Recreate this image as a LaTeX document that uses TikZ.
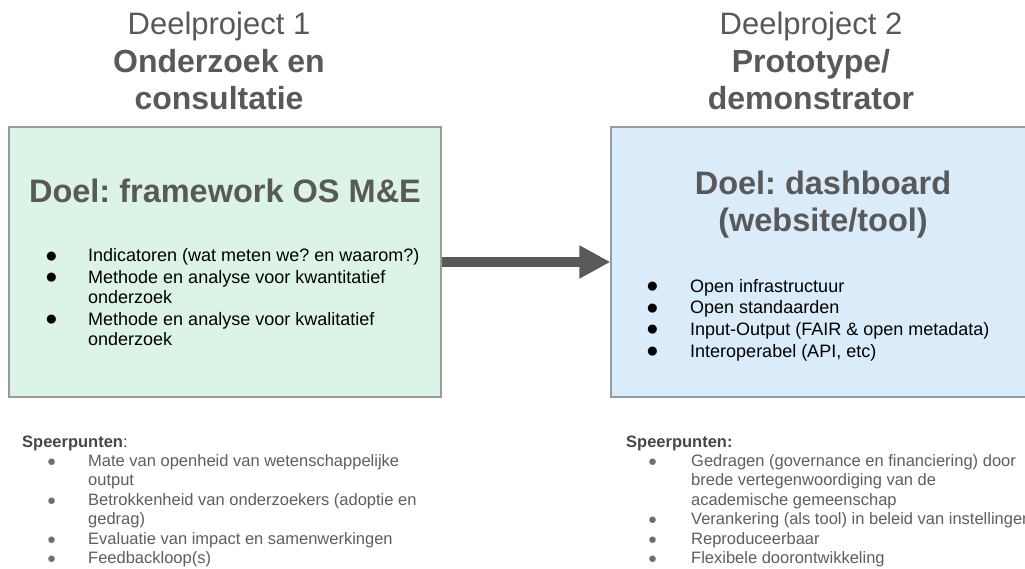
\documentclass[tikz,border=0pt]{standalone}
\usepackage{fontspec}
\setmainfont{Liberation Sans}
\usetikzlibrary{arrows.meta}
\frenchspacing
\definecolor{hdgray}{HTML}{595959}
\definecolor{txtgray}{HTML}{5E5E5E}
\definecolor{spgray}{HTML}{474747}
\definecolor{bulgray}{HTML}{6E6E6E}
\definecolor{greenfill}{HTML}{DCF4E5}
\definecolor{bluefill}{HTML}{DAEBF9}
\definecolor{boxline}{HTML}{9A9A9A}
\newcommand\boxbullet[1]{\makebox[#1][l]{\raisebox{-0.5pt}{\fontsize{21}{21}\selectfont ●}}}
\newcommand\lowbullet[1]{\makebox[#1][l]{\raisebox{0pt}{\color{bulgray}\fontsize{15}{15}\selectfont ●}}}
\tikzset{
  panel/.style={draw=boxline, line width=1.2pt, inner sep=0pt, minimum height=270pt},
  header/.style={anchor=base, inner sep=0pt, text=hdgray, font=\fontsize{31}{31}\selectfont},
  headerbold/.style={anchor=base, inner sep=0pt, text=hdgray, font=\fontsize{32}{32}\selectfont\bfseries},
  goal/.style={anchor=base, inner sep=0pt, text=hdgray, font=\fontsize{32.5}{32.5}\selectfont\bfseries},
  boxlist/.style={anchor=base west, inner sep=0pt, text=black, font=\fontsize{18}{#1}\selectfont},
  lowlist/.style={anchor=base west, inner sep=0pt, text=txtgray, font=\fontsize{16.5}{19.4}\selectfont},
  lowhead/.style={anchor=base west, inner sep=0pt, text=spgray, font=\fontsize{16.5}{19.4}\selectfont},
  bigarrow/.style={draw=hdgray, line width=10pt, -{Triangle[length=31pt,width=31pt]}}
}
\begin{document}
\begin{tikzpicture}[x=1pt,y=-1pt]
\clip (0,0) rectangle (1025,569);
\fill[white] (0,0) rectangle (1025,569);
% panels
\node[panel, fill=greenfill, minimum width=432pt] (left) at (225,262) {};
\node[panel, fill=bluefill, minimum width=424pt] (right) at (823,262) {};
% arrow
\draw[bigarrow] (left.east) -- (right.west);
% headers
\node[header] (h1a) at (219,35) {Deelproject 1};
\node[headerbold] (h1b) at (219,72.5) {Onderzoek en};
\node[headerbold] (h1c) at (219,110) {consultatie};
\node[header] (h2a) at (811,35) {Deelproject 2};
\node[headerbold] (h2b) at (811,72.5) {Prototype/};
\node[headerbold] (h2c) at (811,110) {demonstrator};
% goals
\node[goal] (g1) at (225,203) {Doel: framework OS M\&E};
\node[goal] (g2a) at (823,195) {Doel: dashboard};
\node[goal] (g2b) at (823,232) {(website/tool)};
% box lists
\node[boxlist=21] (l1) at (45,262) {\begin{tabular}[t]{@{}l@{}l@{}}
\boxbullet{43pt} & Indicatoren (wat meten we? en waarom?)\\
\boxbullet{43pt} & Methode en analyse voor kwantitatief\\
 & onderzoek\\
\boxbullet{43pt} & Methode en analyse voor kwalitatief\\
 & onderzoek
\end{tabular}};
\node[boxlist=21.7] (l2) at (646,292) {\begin{tabular}[t]{@{}l@{}l@{}}
\boxbullet{44pt} & Open infrastructuur\\
\boxbullet{44pt} & Open standaarden\\
\boxbullet{44pt} & Input-Output (FAIR \& open metadata)\\
\boxbullet{44pt} & Interoperabel (API, etc)
\end{tabular}};
% speerpunten left
\node[lowhead] (s1) at (22,447) {\textbf{Speerpunten}:};
\node[lowlist] (sl1) at (47,466.5) {\begin{tabular}[t]{@{}l@{}l@{}}
\lowbullet{41pt} & Mate van openheid van wetenschappelijke\\
 & output\\
\lowbullet{41pt} & Betrokkenheid van onderzoekers (adoptie en\\
 & gedrag)\\
\lowbullet{41pt} & Evaluatie van impact en samenwerkingen\\
\lowbullet{41pt} & Feedbackloop(s)
\end{tabular}};
% speerpunten right
\node[lowhead] (s2) at (626,447) {\textbf{Speerpunten:}};
\node[lowlist] (sl2) at (648,466.5) {\begin{tabular}[t]{@{}l@{}l@{}}
\lowbullet{43pt} & Gedragen (governance en financiering) door\\
 & brede vertegenwoordiging van de\\
 & academische gemeenschap\\
\lowbullet{43pt} & Verankering (als tool) in beleid van instellingen\\
\lowbullet{43pt} & Reproduceerbaar\\
\lowbullet{43pt} & Flexibele doorontwikkeling
\end{tabular}};
\end{tikzpicture}
\end{document}
